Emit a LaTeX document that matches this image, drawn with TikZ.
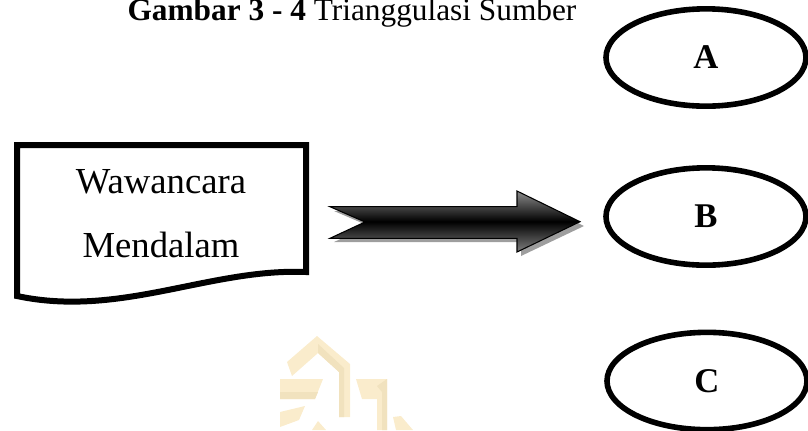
\documentclass[tikz,border=0pt]{standalone}
\usepackage{fontspec}
\setmainfont{Liberation Serif}
\usetikzlibrary{shapes.geometric}
\definecolor{wmlight}{RGB}{250,236,204}
\definecolor{wmdark}{RGB}{241,226,190}
\tikzset{
  source/.style={draw=black, line width=4.2pt, ellipse, minimum width=150pt,
                 minimum height=73pt, inner sep=0pt, font=\fontsize{26pt}{30pt}\selectfont\bfseries},
  doctext/.style={anchor=base, inner sep=0pt, font=\fontsize{27.5pt}{32pt}\selectfont},
  docshape/.style={draw=black, line width=4.5pt, line join=miter},
  blockarrow/.style={draw=black, line width=0.8pt, line join=miter,
                     top color=black!45, bottom color=black!50, middle color=black},
  arrowshadow/.style={fill=black!38},
  logoband/.style={fill=wmlight, draw=none},
  logoshade/.style={fill=wmdark, draw=none}
}
\begin{document}
\begin{tikzpicture}[x=0.75pt, y=-0.75pt]
\useasboundingbox (0,0) rectangle (808,430);

% faint emblem in the lower middle
\fill[logoband] (287,362) -- (317,336) -- (350,364) -- (350,417) -- (339,417) -- (339,372) -- (318,353) -- (292,376) -- cycle;
\fill[logoshade] (318,353) -- (339,372) -- (339,417) -- (344,417) -- (344,368) -- (318,344) -- cycle;
\fill[logoband] (280,379) -- (323,379) -- (315,399) -- (280,399) -- cycle;
\fill[logoshade] (280,392) -- (318,392) -- (315,399) -- (280,399) -- cycle;
\fill[logoband] (356,379) -- (387,379) -- (387,430) -- (377,430) -- (377,399) -- (362,399) -- cycle;
\fill[logoshade] (377,386) -- (387,379) -- (387,430) -- (382,430) -- (382,392) -- cycle;
\fill[logoband] (280,412) -- (305,406) -- (299,420) -- (280,427) -- cycle;
\fill[logoband] (312,430) -- (318,421) -- (326,430) -- cycle;
\fill[logoband] (393,417) -- (401,416) -- (413,430) -- (396,430) -- cycle;

% caption
\node[anchor=base, inner sep=0pt, font=\fontsize{23.5pt}{28pt}\selectfont] (title) at (352,20)
  {\textbf{Gambar 3 - 4} Trianggulasi Sumber};

% document box with wavy lower edge
\draw[docshape] (17,145) -- (306,145) -- (306,272)
  .. controls (210,268) and (120,318) .. (17,296) -- cycle;
\node[doctext] (doc1) at (161,193) {Wawancara};
\node[doctext] (doc2) at (161,257) {Mendalam};

% block arrow with drop shadow
\fill[arrowshadow] (334,211) -- (521,211) -- (521,195) -- (584,226) -- (521,256) -- (521,242)
  -- (334,242) -- (369,226) -- cycle;
\shade[blockarrow] (330,206.7) -- (517,206.7) -- (517,191) -- (580,221.7) -- (517,252)
  -- (517,238.3) -- (330,238.3) -- (365,222) -- cycle;

% the three sources
\node[source] (A) at (706,57.5) {A};
\node[source] (B) at (706,216.5) {B};
\node[source] (C) at (707,381) {C};
\end{tikzpicture}
\end{document}
